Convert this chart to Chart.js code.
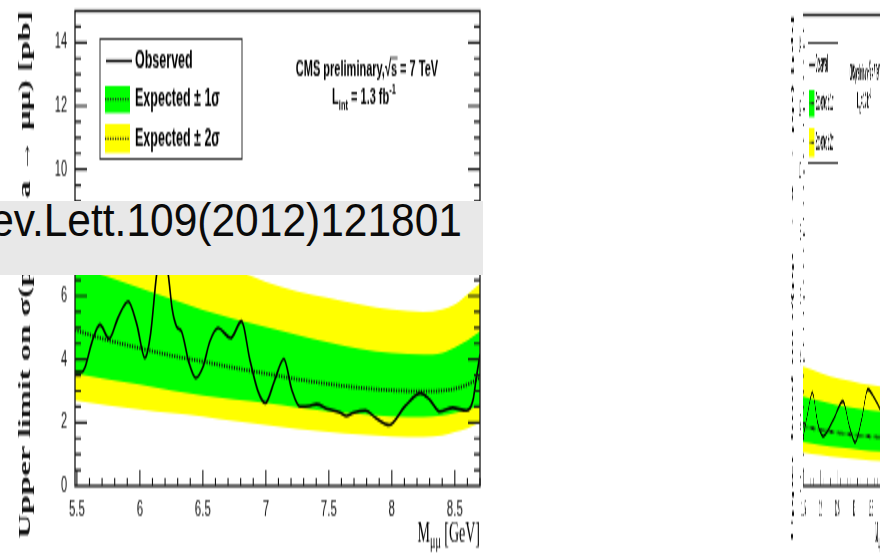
<!DOCTYPE html>
<html>
<head>
<meta charset="utf-8">
<title>Dimuon upper limits</title>
<script src="https://cdn.jsdelivr.net/npm/chart.js"></script>
<style>
  html, body { margin: 0; padding: 0; background: #fff; overflow: hidden; }
  body { width: 880px; height: 556px; position: relative; }
  canvas { position: absolute; top: 0; transform-origin: 0 0; }
  /* ROOT plots were exported tall and narrow, so stretch the canvases the same way */
  #lowMass { left: 0; transform: scaleY(2); }
  #highMass { left: 786.5px; transform: scale(0.2114, 2); }
  #ref { position: absolute; left: 0; top: 201px; width: 483px; height: 74px; background: #e8e8e8; overflow: hidden; }
  #ref span { position: absolute; right: 21px; top: 0; line-height: 74px; white-space: nowrap;
              font: 42.5px "Liberation Sans", Arial, sans-serif; color: #0a0a0a;
              transform-origin: 0 52px; transform: translateY(-1.5px) scaleY(1.1); }
</style>
</head>
<body>
<canvas id="lowMass" width="490" height="278"></canvas>
<canvas id="highMass" width="500" height="278"></canvas>
<div id="ref"><span>ev.Lett.109(2012)121801</span></div>

<script>
// low mass window, 5.5 - 8.7 GeV
const obsMass = [5.485, 5.54, 5.565, 5.62, 5.683, 5.756, 5.825, 5.907, 5.976, 6.04, 6.085, 6.133, 6.175, 6.225, 6.256, 6.291, 6.331, 6.389, 6.444, 6.5, 6.556, 6.621, 6.72, 6.807, 6.873, 6.937, 6.996, 7.071, 7.143, 7.206, 7.27, 7.349, 7.402, 7.492, 7.587, 7.64, 7.69, 7.79, 7.873, 7.979, 8.103, 8.228, 8.302, 8.381, 8.484, 8.593, 8.645, 8.672, 8.7];
const obsLimit = [3.6, 3.6, 3.75, 4.55, 5.09, 4.65, 5.3, 5.83, 5.1, 4.04, 4.8, 6.68, 7.6, 6.68, 5.6, 5.04, 4.88, 3.9, 3.41, 3.75, 4.57, 4.99, 4.67, 5.2, 3.99, 3.0, 2.62, 3.35, 4.01, 3.04, 2.51, 2.53, 2.58, 2.43, 2.32, 2.21, 2.3, 2.38, 2.15, 1.93, 2.51, 2.93, 2.72, 2.35, 2.47, 2.38, 2.72, 3.46, 4.15];

const bandMass = [5.485, 5.75, 6.0, 6.25, 6.5, 6.75, 7.0, 7.25, 7.5, 7.75, 8.0, 8.25, 8.4, 8.5, 8.6, 8.7];
const expLimit = [4.92, 4.6, 4.35, 4.12, 3.93, 3.73, 3.55, 3.37, 3.22, 3.1, 3.02, 2.99, 3.01, 3.07, 3.2, 3.42];
const plus1Sigma = [7.0, 6.6, 6.25, 5.9, 5.56, 5.28, 5.02, 4.77, 4.53, 4.33, 4.2, 4.15, 4.2, 4.38, 4.6, 4.88];
const minus1Sigma = [3.55, 3.37, 3.2, 3.02, 2.86, 2.73, 2.62, 2.48, 2.36, 2.27, 2.2, 2.18, 2.22, 2.3, 2.4, 2.53];
const plus2Sigma = [8.85, 8.45, 8.05, 7.65, 7.25, 6.85, 6.45, 6.15, 5.93, 5.73, 5.57, 5.5, 5.58, 5.73, 6.05, 6.4];
const minus2Sigma = [2.7, 2.55, 2.42, 2.3, 2.2, 2.05, 1.92, 1.8, 1.7, 1.62, 1.56, 1.55, 1.6, 1.7, 1.82, 2.0];

const massTicks = [5.5, 6, 6.5, 7, 7.5, 8, 8.5];
const limitTicks = [0, 2, 4, 6, 8, 10, 12, 14];

// high mass window, 11.5 - 14 GeV
const obsMassHigh = [11.48, 11.62, 11.76, 11.92, 12.08, 12.38, 12.67, 12.86, 13.03, 13.22, 13.41, 13.6, 13.8];
const obsLimitHigh = [1.5, 2.3, 2.98, 2.0, 1.58, 2.1, 2.7, 1.9, 1.39, 2.1, 3.08, 2.8, 2.4];
const bandMassHigh = [11.48, 12.0, 12.6, 13.2, 13.8];
const expLimitHigh = [1.9, 1.79, 1.68, 1.6, 1.55];
const plus1High = [2.85, 2.7, 2.55, 2.45, 2.37];
const minus1High = [1.4, 1.3, 1.22, 1.15, 1.1];
const plus2High = [3.8, 3.6, 3.4, 3.27, 3.17];
const minus2High = [1.07, 0.98, 0.9, 0.84, 0.79];
const massTicksHigh = [11.5, 12, 12.5, 13, 13.5];

const GREEN = '#00ff00';
const YELLOW = '#ffff00';
const SANS = '"Liberation Sans", Arial, sans-serif';
const SERIF = '"Liberation Serif", "Times New Roman", serif';

function pts(xs, ys) {
  return xs.map((x, i) => ({ x: x, y: ys[i] }));
}

// frame, inward ticks, legend and labels (ROOT style)
const decorations = {
  id: 'decorations',
  afterDatasetsDraw(chart) {
    const { ctx, chartArea: a, scales: { x, y } } = chart;
    ctx.save();
    ctx.strokeStyle = '#151515';
    ctx.lineWidth = 1.1;
    ctx.beginPath();
    for (let k = Math.ceil(x.min * 10 - 1e-6); k <= x.max * 10 + 1e-6; k++) {
      const px = x.getPixelForValue(k / 10);
      const len = k % 5 === 0 ? 8 : 4;
      ctx.moveTo(px, a.bottom);
      ctx.lineTo(px, a.bottom - len);
    }
    for (let k = 1; k < 30; k++) {
      const py = y.getPixelForValue(k / 2);
      const len = k % 4 === 0 ? 12 : 6;
      ctx.moveTo(a.left, py);
      ctx.lineTo(a.left + len, py);
      ctx.moveTo(a.right, py);
      ctx.lineTo(a.right - len, py);
    }
    ctx.stroke();
    ctx.lineWidth = 1.3;
    ctx.strokeRect(a.left, a.top, a.right - a.left, a.bottom - a.top);
    ctx.restore();
  },
  afterDraw(chart) {
    const { ctx, chartArea: a } = chart;
    const ds = chart.data.datasets;
    ctx.save();

    // legend box
    const lx = a.left + 25, ly = a.top + 14;
    ctx.fillStyle = '#fff';
    ctx.fillRect(lx, ly, 142, 60);
    ctx.strokeStyle = '#333';
    ctx.lineWidth = 1;
    ctx.strokeRect(lx, ly, 142, 60);

    ctx.strokeStyle = '#000';
    ctx.lineWidth = 1.3;
    ctx.beginPath();
    ctx.moveTo(lx + 6, ly + 11);
    ctx.lineTo(lx + 32, ly + 11);
    ctx.stroke();

    ctx.fillStyle = ds[2].backgroundColor;
    ctx.fillRect(lx + 5, ly + 23.5, 25, 13.5);
    ctx.fillStyle = ds[4].backgroundColor;
    ctx.fillRect(lx + 5, ly + 42.5, 25, 14.5);
    ctx.setLineDash([1.2, 1.3]);
    ctx.lineWidth = 1.2;
    ctx.strokeStyle = '#222';
    ctx.beginPath();
    ctx.moveTo(lx + 5, ly + 30.2); ctx.lineTo(lx + 30, ly + 30.2);
    ctx.moveTo(lx + 5, ly + 49.8); ctx.lineTo(lx + 30, ly + 49.8);
    ctx.stroke();
    ctx.setLineDash([]);

    ctx.fillStyle = '#000';
    ctx.font = 'bold 12.5px ' + SANS;
    ctx.textBaseline = 'middle';
    ctx.textAlign = 'left';
    ctx.fillText(ds[0].label, lx + 35, ly + 11.5);
    ctx.fillText(ds[2].label, lx + 35, ly + 30.5);
    ctx.fillText(ds[4].label, lx + 35, ly + 50.5);

    // experiment label
    ctx.textBaseline = 'alphabetic';
    ctx.font = 'bold 11px ' + SANS;
    const head = 'CMS preliminary,\u221A', sq = 's', tail = ' = 7 TeV';
    const wh = ctx.measureText(head).width, ws = ctx.measureText(sq).width, wt = ctx.measureText(tail).width;
    let cx = a.left + 292 - (wh + ws + wt) / 2;
    const b1 = a.top + 32.5;
    ctx.fillText(head, cx, b1);
    ctx.fillText(sq, cx + wh, b1);
    ctx.fillText(tail, cx + wh + ws, b1);
    ctx.lineWidth = 0.8;
    ctx.strokeStyle = '#000';
    ctx.beginPath();
    ctx.moveTo(cx + wh - 1, b1 - 9);
    ctx.lineTo(cx + wh + ws + 0.5, b1 - 9);
    ctx.stroke();

    const b2 = a.top + 46.5;
    ctx.font = 'bold 11px ' + SANS;
    const wL = ctx.measureText('L').width, wEq = ctx.measureText(' = 1.3 fb').width;
    ctx.font = 'bold 7.5px ' + SANS;
    const wInt = ctx.measureText('int').width, wExp = ctx.measureText('-1').width;
    cx = a.left + 289 - (wL + wInt + wEq + wExp) / 2;
    ctx.font = 'bold 11px ' + SANS;
    ctx.fillText('L', cx, b2);
    ctx.fillText(' = 1.3 fb', cx + wL + wInt, b2);
    ctx.font = 'bold 7.5px ' + SANS;
    ctx.fillText('int', cx + wL, b2 + 2.5);
    ctx.fillText('-1', cx + wL + wInt + wEq, b2 - 5);

    // mass axis title, right aligned
    const bt = 270.5;
    ctx.font = '14px ' + SERIF;
    const wM = ctx.measureText('M').width, wG = ctx.measureText(' [GeV]').width;
    ctx.font = '10px ' + SERIF;
    const wMu = ctx.measureText('\u03BC\u03BC').width;
    cx = a.right - (wM + wMu + wG);
    ctx.font = '14px ' + SERIF;
    ctx.fillText('M', cx, bt);
    ctx.fillText(' [GeV]', cx + wM + wMu, bt);
    ctx.font = '10px ' + SERIF;
    ctx.fillText('\u03BC\u03BC', cx + wM, bt + 3);

    ctx.restore();
  }
};

function limitPlot(canvasId, s) {
  const canvas = document.getElementById(canvasId);
  const band = { borderWidth: 0, borderColor: 'transparent', pointRadius: 0, cubicInterpolationMode: 'monotone' };
  return new Chart(canvas, {
    type: 'line',
    data: {
      datasets: [
        { label: 'Observed', data: pts(s.obsX, s.obsY), borderColor: '#000', borderWidth: 1.6,
          pointRadius: 0, cubicInterpolationMode: 'monotone', fill: false },
        { label: 'Expected', data: pts(s.bandX, s.exp), borderColor: '#111', borderWidth: 1.8,
          borderDash: [1.2, 1.3], pointRadius: 0, cubicInterpolationMode: 'monotone', fill: false },
        Object.assign({ label: 'Expected \u00B1 1\u03C3', data: pts(s.bandX, s.p1), backgroundColor: GREEN, fill: '+1' }, band),
        Object.assign({ label: '-1 sigma', data: pts(s.bandX, s.m1), fill: false }, band),
        Object.assign({ label: 'Expected \u00B1 2\u03C3', data: pts(s.bandX, s.p2), backgroundColor: YELLOW, fill: '+1' }, band),
        Object.assign({ label: '-2 sigma', data: pts(s.bandX, s.m2), fill: false }, band)
      ]
    },
    options: {
      responsive: false,
      animation: false,
      events: [],
      layout: { padding: { top: s.top, right: canvas.width - 480, left: 0, bottom: 0 } },
      plugins: { legend: { display: false }, tooltip: { enabled: false } },
      scales: {
        x: {
          type: 'linear', min: s.xMin, max: s.xMax,
          afterBuildTicks: sc => { sc.ticks = s.xTicks.map(v => ({ value: v })); },
          afterFit: sc => { sc.height = 35; sc.paddingLeft = 0; sc.paddingRight = 0; },
          grid: { display: false, drawTicks: false },
          border: { display: false },
          ticks: { color: '#111', padding: 4.5, maxRotation: 0, autoSkip: false,
                   font: { family: SANS, size: 11.5 }, callback: v => String(v) }
        },
        y: {
          min: 0, max: 15,
          afterBuildTicks: sc => { sc.ticks = limitTicks.map(v => ({ value: v })); },
          afterFit: sc => { sc.width = 75; sc.paddingTop = 0; sc.paddingBottom = 0; },
          grid: { display: false, drawTicks: false },
          border: { display: false },
          ticks: { color: '#111', padding: 8, font: { family: SANS, size: 11 }, callback: v => String(v) },
          title: { display: true, text: 'Upper limit on \u03C3(pp \u2192 a \u2192 \u03BC\u03BC) [pb]', align: 'end',
                   color: '#111', padding: { top: 15, bottom: 0 },
                   font: { family: SERIF, size: 17, weight: 'bold' } }
        }
      }
    },
    plugins: [decorations]
  });
}

limitPlot('lowMass', {
  obsX: obsMass, obsY: obsLimit, bandX: bandMass, exp: expLimit,
  p1: plus1Sigma, m1: minus1Sigma, p2: plus2Sigma, m2: minus2Sigma,
  xMin: 5.485, xMax: 8.7, xTicks: massTicks, top: 5.5
});

limitPlot('highMass', {
  obsX: obsMassHigh, obsY: obsLimitHigh, bandX: bandMassHigh, exp: expLimitHigh,
  p1: plus1High, m1: minus1High, p2: plus2High, m2: minus2High,
  xMin: 11.48, xMax: 14.02, xTicks: massTicksHigh, top: 7.5
});
</script>
</body>
</html>
